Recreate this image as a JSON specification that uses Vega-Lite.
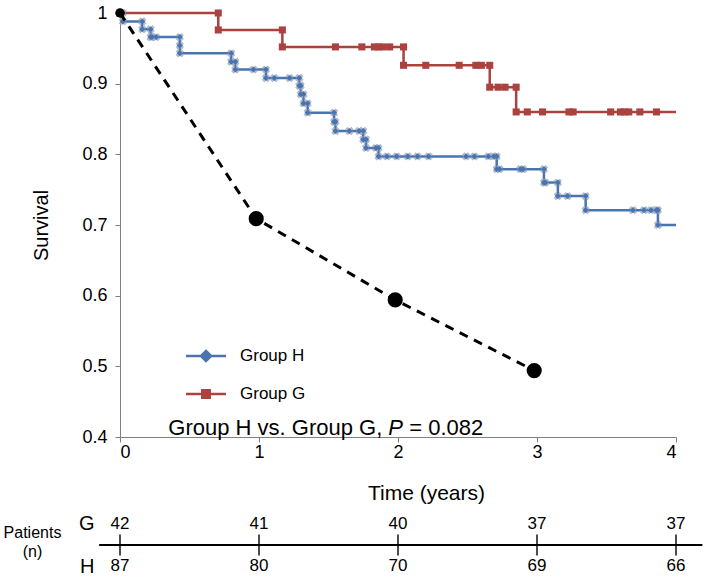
{
  "$schema": "https://vega.github.io/schema/vega-lite/v6.json",
  "background": "white",
  "padding": {"left": 3, "top": 4, "right": 0, "bottom": 0},
  "config": {
    "font": "Liberation Sans",
    "view": {"stroke": null},
    "axis": {"grid": false, "domainColor": "#808080", "tickColor": "#808080", "labelColor": "black", "titleColor": "black", "labelFont": "Liberation Sans", "titleFont": "Liberation Sans", "titleFontWeight": "normal"},
    "legend": {"labelFont": "Liberation Sans"}
  },
  "datasets": {
    "km": [
      {"group": "Group H", "t": 0, "s": 1}, {"group": "Group H", "t": 0.02, "s": 1}, {"group": "Group H", "t": 0.02, "s": 0.988},
      {"group": "Group H", "t": 0.16, "s": 0.988}, {"group": "Group H", "t": 0.16, "s": 0.977}, {"group": "Group H", "t": 0.22, "s": 0.977},
      {"group": "Group H", "t": 0.22, "s": 0.966}, {"group": "Group H", "t": 0.23, "s": 0.966}, {"group": "Group H", "t": 0.26, "s": 0.966},
      {"group": "Group H", "t": 0.43, "s": 0.966}, {"group": "Group H", "t": 0.43, "s": 0.954}, {"group": "Group H", "t": 0.43, "s": 0.943},
      {"group": "Group H", "t": 0.8, "s": 0.943}, {"group": "Group H", "t": 0.8, "s": 0.931}, {"group": "Group H", "t": 0.83, "s": 0.931},
      {"group": "Group H", "t": 0.83, "s": 0.92}, {"group": "Group H", "t": 0.96, "s": 0.92}, {"group": "Group H", "t": 1.05, "s": 0.92},
      {"group": "Group H", "t": 1.05, "s": 0.908}, {"group": "Group H", "t": 1.11, "s": 0.908}, {"group": "Group H", "t": 1.22, "s": 0.908},
      {"group": "Group H", "t": 1.29, "s": 0.908}, {"group": "Group H", "t": 1.29, "s": 0.897}, {"group": "Group H", "t": 1.3, "s": 0.897},
      {"group": "Group H", "t": 1.3, "s": 0.885}, {"group": "Group H", "t": 1.32, "s": 0.885}, {"group": "Group H", "t": 1.32, "s": 0.872},
      {"group": "Group H", "t": 1.35, "s": 0.872}, {"group": "Group H", "t": 1.35, "s": 0.859}, {"group": "Group H", "t": 1.54, "s": 0.859},
      {"group": "Group H", "t": 1.54, "s": 0.846}, {"group": "Group H", "t": 1.55, "s": 0.846}, {"group": "Group H", "t": 1.55, "s": 0.833},
      {"group": "Group H", "t": 1.65, "s": 0.833}, {"group": "Group H", "t": 1.72, "s": 0.833}, {"group": "Group H", "t": 1.75, "s": 0.833},
      {"group": "Group H", "t": 1.75, "s": 0.821}, {"group": "Group H", "t": 1.77, "s": 0.821}, {"group": "Group H", "t": 1.77, "s": 0.809},
      {"group": "Group H", "t": 1.84, "s": 0.809}, {"group": "Group H", "t": 1.86, "s": 0.809}, {"group": "Group H", "t": 1.86, "s": 0.797},
      {"group": "Group H", "t": 1.92, "s": 0.797}, {"group": "Group H", "t": 1.99, "s": 0.797}, {"group": "Group H", "t": 2.07, "s": 0.797},
      {"group": "Group H", "t": 2.14, "s": 0.797}, {"group": "Group H", "t": 2.22, "s": 0.797}, {"group": "Group H", "t": 2.49, "s": 0.797},
      {"group": "Group H", "t": 2.55, "s": 0.797}, {"group": "Group H", "t": 2.65, "s": 0.797}, {"group": "Group H", "t": 2.69, "s": 0.797},
      {"group": "Group H", "t": 2.71, "s": 0.797}, {"group": "Group H", "t": 2.71, "s": 0.779}, {"group": "Group H", "t": 2.73, "s": 0.779},
      {"group": "Group H", "t": 2.88, "s": 0.779}, {"group": "Group H", "t": 2.9, "s": 0.779}, {"group": "Group H", "t": 3.05, "s": 0.779},
      {"group": "Group H", "t": 3.05, "s": 0.76}, {"group": "Group H", "t": 3.06, "s": 0.76}, {"group": "Group H", "t": 3.15, "s": 0.76},
      {"group": "Group H", "t": 3.15, "s": 0.741}, {"group": "Group H", "t": 3.22, "s": 0.741}, {"group": "Group H", "t": 3.35, "s": 0.741},
      {"group": "Group H", "t": 3.35, "s": 0.721}, {"group": "Group H", "t": 3.69, "s": 0.721}, {"group": "Group H", "t": 3.77, "s": 0.721},
      {"group": "Group H", "t": 3.82, "s": 0.721}, {"group": "Group H", "t": 3.86, "s": 0.721}, {"group": "Group H", "t": 3.87, "s": 0.721},
      {"group": "Group H", "t": 3.87, "s": 0.7}, {"group": "Group H", "t": 4, "s": 0.7},
      {"group": "Group G", "t": 0, "s": 1}, {"group": "Group G", "t": 0.707, "s": 1}, {"group": "Group G", "t": 0.707, "s": 0.976},
      {"group": "Group G", "t": 1.168, "s": 0.976}, {"group": "Group G", "t": 1.168, "s": 0.952}, {"group": "Group G", "t": 1.55, "s": 0.952},
      {"group": "Group G", "t": 1.74, "s": 0.952}, {"group": "Group G", "t": 1.83, "s": 0.952}, {"group": "Group G", "t": 1.86, "s": 0.952},
      {"group": "Group G", "t": 1.89, "s": 0.952}, {"group": "Group G", "t": 1.94, "s": 0.952}, {"group": "Group G", "t": 2.04, "s": 0.952},
      {"group": "Group G", "t": 2.04, "s": 0.926}, {"group": "Group G", "t": 2.2, "s": 0.926}, {"group": "Group G", "t": 2.44, "s": 0.926},
      {"group": "Group G", "t": 2.56, "s": 0.926}, {"group": "Group G", "t": 2.6, "s": 0.926}, {"group": "Group G", "t": 2.66, "s": 0.926},
      {"group": "Group G", "t": 2.66, "s": 0.895}, {"group": "Group G", "t": 2.72, "s": 0.895}, {"group": "Group G", "t": 2.77, "s": 0.895},
      {"group": "Group G", "t": 2.85, "s": 0.895}, {"group": "Group G", "t": 2.85, "s": 0.86}, {"group": "Group G", "t": 2.93, "s": 0.86},
      {"group": "Group G", "t": 3.04, "s": 0.86}, {"group": "Group G", "t": 3.23, "s": 0.86}, {"group": "Group G", "t": 3.26, "s": 0.86},
      {"group": "Group G", "t": 3.53, "s": 0.86}, {"group": "Group G", "t": 3.6, "s": 0.86}, {"group": "Group G", "t": 3.63, "s": 0.86},
      {"group": "Group G", "t": 3.66, "s": 0.86}, {"group": "Group G", "t": 3.74, "s": 0.86}, {"group": "Group G", "t": 3.86, "s": 0.86},
      {"group": "Group G", "t": 4, "s": 0.86}
    ],
    "ref": [
      {"t": 0, "s": 1}, {"t": 0.98, "s": 0.709}, {"t": 1.98, "s": 0.594}, {"t": 2.98, "s": 0.494}
    ],
    "risk": [
      {"row": "G", "t": 0, "n": 42}, {"row": "G", "t": 1, "n": 41}, {"row": "G", "t": 2, "n": 40}, {"row": "G", "t": 3, "n": 37}, {"row": "G", "t": 4, "n": 37},
      {"row": "H", "t": 0, "n": 87}, {"row": "H", "t": 1, "n": 80}, {"row": "H", "t": 2, "n": 70}, {"row": "H", "t": 3, "n": 69}, {"row": "H", "t": 4, "n": 66}
    ],
    "note": [
      {"t": 1.93, "s": 0.413}
    ]
  },
  "spacing": 10,
  "vconcat": [
    {
      "width": 556,
      "height": 424,
      "encoding": {
        "x": {"field": "t", "type": "quantitative", "scale": {"domain": [0, 4], "nice": false},
          "axis": {"values": [0, 1, 2, 3, 4], "format": "d", "labelFontSize": 18, "tickSize": 5, "labelPadding": 1,
            "title": "Time (years)", "titleFontSize": 21, "titleX": 306, "titleY": 56, "titleBaseline": "middle", "titleAlign": "center"}},
        "y": {"field": "s", "type": "quantitative", "scale": {"domain": [0.4, 1], "nice": false, "zero": false},
          "axis": {"values": [0.4, 0.5, 0.6, 0.7, 0.8, 0.9, 1], "format": ".1~f", "labelFontSize": 18, "tickSize": 5, "labelPadding": 8,
            "title": "Survival", "titleFontSize": 20, "titlePadding": 30}}
      },
      "layer": [
        {
          "data": {"name": "km"},
          "mark": {"type": "line", "strokeWidth": 2.5},
          "encoding": {
            "color": {"field": "group", "type": "nominal",
              "scale": {"domain": ["Group H", "Group G"], "range": ["#4A74AD", "#AB423F"]},
              "legend": {"orient": "none", "legendX": 71, "legendY": 328, "title": null, "labelFontSize": 17, "labelColor": "black",
                "symbolSize": 711, "rowPadding": 12, "labelOffset": 19, "symbolStrokeWidth": 2.5,
                "encode": {"symbols": {"update": {
                  "shape": {"signal": "datum.value === 'Group H' ? 'M-1.5,0H1.5M0,-0.38L0.38,0L0,0.38L-0.38,0Z' : 'M-1.5,0H1.5M-0.28,-0.28H0.28V0.28H-0.28Z'"},
                  "fill": {"scale": "color", "field": "value"},
                  "stroke": {"scale": "color", "field": "value"},
                  "fillOpacity": {"value": 1}}}}}
            }
          }
        },
        {
          "data": {"name": "km"},
          "transform": [{"filter": "datum.group === 'Group H' && datum.t < 4"}],
          "mark": {"type": "point", "shape": "cross", "angle": 45, "filled": true, "size": 70, "color": "#A3AFC6", "opacity": 0.85}
        },
        {
          "data": {"name": "km"},
          "transform": [{"filter": "datum.group === 'Group H' && datum.t < 4"}],
          "mark": {"type": "point", "shape": "diamond", "filled": true, "size": 38, "color": "#4A74AD", "opacity": 1}
        },
        {
          "data": {"name": "km"},
          "transform": [{"filter": "datum.group === 'Group G' && datum.t < 4"}],
          "mark": {"type": "point", "shape": "square", "filled": true, "size": 50, "color": "#AB423F", "opacity": 1}
        },
        {
          "data": {"name": "ref"},
          "mark": {"type": "line", "color": "black", "strokeWidth": 3, "strokeDash": [9, 7]}
        },
        {
          "data": {"name": "ref"},
          "transform": [{"filter": "datum.t > 0"}],
          "mark": {"type": "point", "filled": true, "size": 230, "color": "black", "opacity": 1}
        },
        {
          "data": {"name": "ref"},
          "transform": [{"filter": "datum.t === 0"}],
          "mark": {"type": "point", "filled": true, "size": 90, "color": "black", "opacity": 1}
        },
        {
          "data": {"name": "note"},
          "mark": {"type": "text", "text": "Group H vs. Group G,", "fontSize": 22, "align": "right", "baseline": "middle", "dx": -6, "color": "black"}
        },
        {
          "data": {"name": "note"},
          "mark": {"type": "text", "text": "P", "fontSize": 22, "fontStyle": "italic", "align": "left", "baseline": "middle", "color": "black"}
        },
        {
          "data": {"name": "note"},
          "mark": {"type": "text", "text": "= 0.082", "fontSize": 22, "align": "left", "baseline": "middle", "dx": 21, "color": "black"}
        }
      ]
    },
    {
      "width": 556,
      "height": 60,
      "data": {"name": "risk"},
      "encoding": {
        "y": {"field": "row", "type": "nominal", "scale": {"type": "point", "domain": ["G", "H"], "padding": 0.2},
          "axis": {"labelFontSize": 20, "labelColor": "black", "ticks": false, "domain": false, "labelPadding": 26,
            "title": ["Patients", "(n)"], "titleAngle": 0, "titleFontSize": 16, "titleAlign": "center", "titleBaseline": "middle",
            "titleX": -88, "titleY": 17, "titleLineHeight": 19}}
      },
      "layer": [
        {
          "data": {"values": [{}]},
          "mark": {"type": "rule", "color": "black", "strokeWidth": 2, "yOffset": 21.5},
          "encoding": {"x": {"datum": -0.15, "scale": {"domain": [0, 4], "nice": false}, "axis": null}, "x2": {"datum": 4.19}, "y": {"datum": "G"}}
        },
        {
          "transform": [{"filter": "datum.row === 'G'"}],
          "mark": {"type": "tick", "orient": "vertical", "color": "black", "thickness": 2, "size": 21, "yOffset": 21.5},
          "encoding": {"x": {"field": "t", "type": "quantitative"}}
        },
        {
          "mark": {"type": "text", "fontSize": 17, "baseline": "middle", "color": "black"},
          "encoding": {"x": {"field": "t", "type": "quantitative"}, "text": {"field": "n", "type": "quantitative"}}
        }
      ]
    }
  ]
}
